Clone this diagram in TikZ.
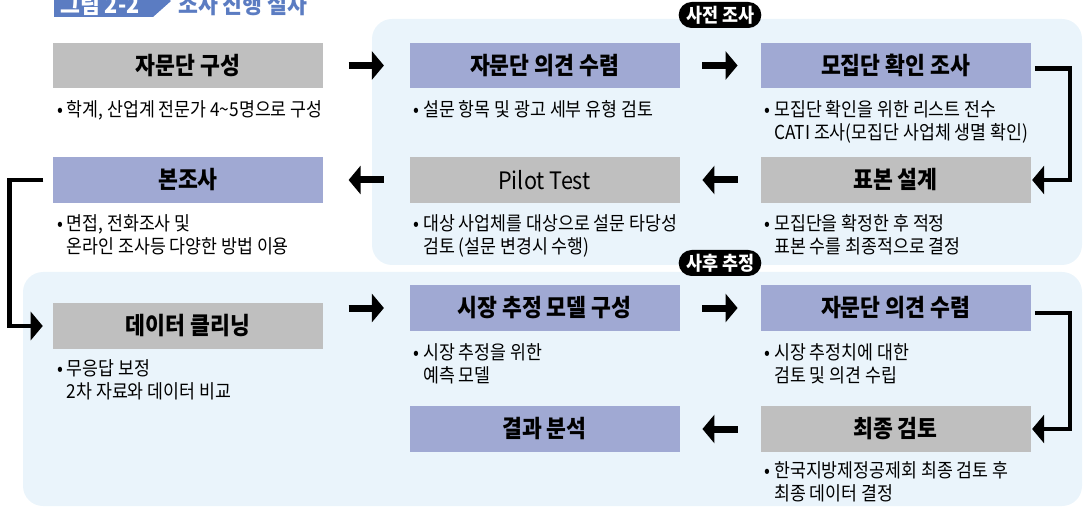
\documentclass[tikz,border=0pt]{standalone}
\usepackage{fontspec}
\setmainfont{Noto Sans CJK KR}[FakeStretch=0.9]
\usetikzlibrary{arrows.meta}

\definecolor{boxblue}{HTML}{A0A9D3}
\definecolor{boxgray}{HTML}{BFBFBF}
\definecolor{panelblue}{HTML}{EAF4FB}
\definecolor{titleblue}{HTML}{5B7CC2}

\newcommand{\ind}{\hphantom{\textbullet\ }}

\begin{document}
\begin{tikzpicture}[x=0.75pt, y=-0.75pt]
\tikzset{ >={Triangle[length=9pt, width=21pt]}, inner sep=0pt,
  stepbox/.style={minimum width=202.5pt, minimum height=34pt, font=\fontsize{18}{20}\selectfont\bfseries},
  bluebox/.style={stepbox, fill=boxblue},
  graybox/.style={stepbox, fill=boxgray},
  note/.style={anchor=north west, align=left, font=\fontsize{14.4}{17.25}\selectfont},
  badge/.style={fill=black, text=white, rounded corners=9.75pt, minimum width=62pt, minimum height=19.5pt, font=\fontsize{14.5}{16}\selectfont\bfseries},
  flow/.style={->, line width=5.25pt, shorten <=#1, shorten >=#1},
  elbow/.style={->, line width=3.4pt},
}

\useasboundingbox (0,0) rectangle (1087,509);
\clip (0,0) rectangle (1087,509);

%\draw [lightgray, dashed] (0,0) grid[step=50] (1087,509);

% title
\fill [titleblue] (54,-14) -- (153,-14) -- (171,1) -- (153,17) -- (54,17) -- cycle;
\node [anchor=base west, text=white, font=\fontsize{18}{20}\selectfont\bfseries] (fignum) at (60,14) {그림 2-2};
\node [anchor=base west, text=titleblue, font=\fontsize{18}{20}\selectfont\bfseries] (figtitle) at (178,14) {조사 진행 절차};

% panels
\fill [panelblue, rounded corners=15pt] (372,19) rectangle (1082,265);
\fill [panelblue, rounded corners=15pt] (23,272) rectangle (1082,506);

\node [badge] (pre)  at (720,15)  {사전 조사};
\node [badge] (post) at (720,263) {사후 추정};

% steps
\node [graybox] (a1) at (188,65.5)   {자문단 구성};
\node [bluebox] (a2) at (544.5,65.5) {자문단 의견 수렴};
\node [bluebox] (a3) at (895.5,65.5) {모집단 확인 조사};
\node [bluebox] (b1) at (188,180)    {본조사};
\node [graybox] (b2) at (544.5,180)  {\mdseries Pilot Test};
\node [graybox] (b3) at (895.5,180)  {표본 설계};
\node [graybox] (c1) at (188,326)    {데이터 클리닝};
\node [bluebox] (c2) at (544.5,308)  {시장 추정 모델 구성};
\node [bluebox] (c3) at (895.5,308)  {자문단 의견 수렴};
\node [bluebox] (d2) at (544.5,429)  {결과 분석};
\node [graybox] (d3) at (895.5,429)  {최종 검토};

% notes
\node [note] (a1t) at ([shift={(4,12)}]a1.south west) {\textbullet\ 학계, 산업계 전문가 4\textasciitilde5명으로 구성};
\node [note] (a2t) at ([shift={(4,12)}]a2.south west) {\textbullet\ 설문 항목 및 광고 세부 유형 검토};
\node [note] (a3t) at ([shift={(4,12)}]a3.south west) {\textbullet\ 모집단 확인을 위한 리스트 전수\\\ind CATI 조사(모집단 사업체 생멸 확인)};
\node [note] (b1t) at ([shift={(4,11)}]b1.south west) {\textbullet\ 면접, 전화조사 및\\\ind 온라인 조사등 다양한 방법 이용};
\node [note] (b2t) at ([shift={(4,11)}]b2.south west) {\textbullet\ 대상 사업체를 대상으로 설문 타당성\\\ind 검토 (설문 변경시 수행)};
\node [note] (b3t) at ([shift={(4,11)}]b3.south west) {\textbullet\ 모집단을 확정한 후 적정\\\ind 표본 수를 최종적으로 결정};
\node [note] (c1t) at ([shift={(4,10)}]c1.south west) {\textbullet\ 무응답 보정\\\ind 2차 자료와 데이터 비교};
\node [note] (c2t) at ([shift={(4,12)}]c2.south west) {\textbullet\ 시장 추정을 위한\\\ind 예측 모델};
\node [note] (c3t) at ([shift={(4,12)}]c3.south west) {\textbullet\ 시장 추정치에 대한\\\ind 검토 및 의견 수립};
\node [note] (d3t) at ([shift={(4,9)}]d3.south west)  {\textbullet\ 한국지방제정공제회 최종 검토 후\\\ind 최종 데이터 결정};

% arrows
\draw [flow=19pt] (a1.east) -- (a2.west);
\draw [flow=17pt] (a2.east) -- (a3.west);
\draw [elbow] ([shift={(4,3)}]a3.east) -- ++(35,0) |- ([xshift=1pt]b3.east);
\draw [flow=17pt] (b3.west) -- (b2.east);
\draw [flow=19pt] (b2.west) -- (b1.east);
\draw [elbow] ([xshift=-7pt]b1.west) -- ++(-34,0) |- ([xshift=-7.5pt]c1.west);
\draw [flow=19pt] (c1.east |- c2.west) -- (c2.west);
\draw [flow=17pt] (c2.east) -- (c3.west);
\draw [elbow] ([shift={(4,5)}]c3.east) -- ++(35,0) |- ([xshift=1pt]d3.east);
\draw [flow=17pt] (d3.west) -- (d2.east);
\end{tikzpicture}
\end{document}
